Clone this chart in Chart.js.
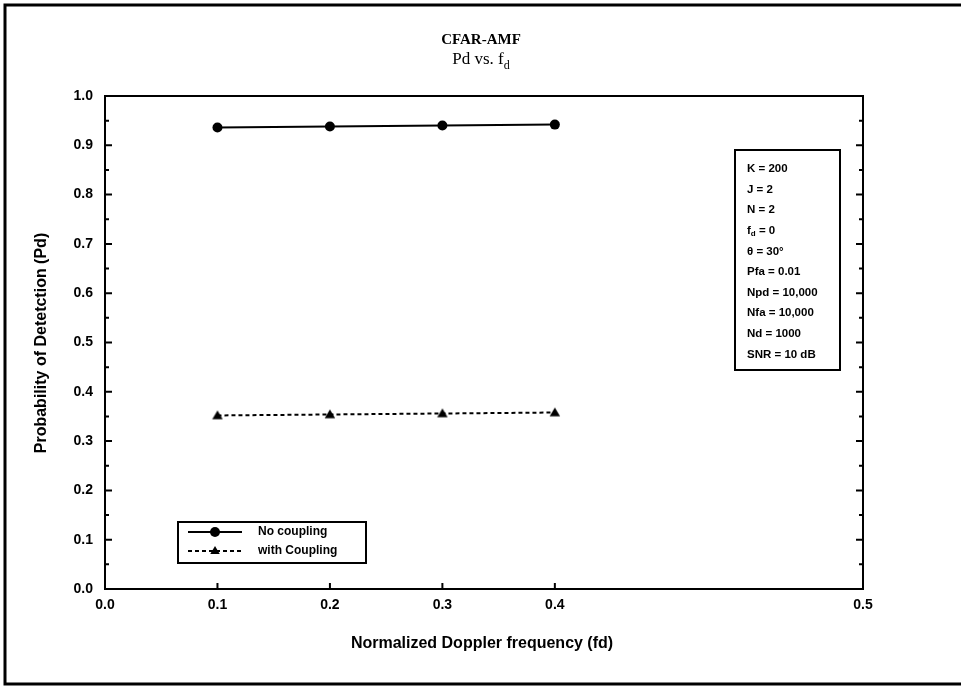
<!DOCTYPE html>
<html><head><meta charset="utf-8">
<script src="https://cdn.jsdelivr.net/npm/chart.js@4.4.1/dist/chart.umd.min.js"></script>
<style>html,body{margin:0;padding:0;background:#fff}#wrap{width:961px;height:692px;position:relative}</style>
</head><body><div id="wrap"><canvas id="c" width="961" height="692"></canvas></div>
<script>
// ---- data ----
const fdValues = [0.1, 0.2, 0.3, 0.4];
const pdNoCoupling = [0.936, 0.938, 0.940, 0.942];
const pdWithCoupling = [0.352, 0.354, 0.356, 0.358];
const xTickValues = [0, 0.1, 0.2, 0.3, 0.4, 0.674];
const xTickLabels = ['0.0', '0.1', '0.2', '0.3', '0.4', '0.5'];
const yTickValues = [0, 0.1, 0.2, 0.3, 0.4, 0.5, 0.6, 0.7, 0.8, 0.9, 1.0];
const yTickLabels = ['0.0', '0.1', '0.2', '0.3', '0.4', '0.5', '0.6', '0.7', '0.8', '0.9', '1.0'];
const seriesNames = ['No coupling', 'with Coupling'];
const titleMain = 'CFAR-AMF';
const xTitle = 'Normalized Doppler frequency (fd)';
const yTitle = 'Probability of Detetction (Pd)';
const paramLines = [
  {t: 'K = 200'}, {t: 'J = 2'}, {t: 'N = 2'}, {t: 'f', sub: 'd', rest: ' = 0'},
  {t: 'θ = 30°'}, {t: 'Pfa = 0.01'}, {t: 'Npd = 10,000'}, {t: 'Nfa = 10,000'},
  {t: 'Nd = 1000'}, {t: 'SNR = 10 dB'}
];

const SANS = '"Liberation Sans", Arial, sans-serif';
const SERIF = '"Liberation Serif", "Times New Roman", serif';

function tri(ctx, x, y, r) {
  ctx.beginPath();
  ctx.moveTo(x, y - r);
  ctx.lineTo(x + r * 0.95, y + r * 0.6);
  ctx.lineTo(x - r * 0.95, y + r * 0.6);
  ctx.closePath();
  ctx.fill();
}

const decor = {
  id: 'decor',
  afterDraw(chart) {
    const ctx = chart.ctx;
    const a = chart.chartArea;
    const xs = chart.scales.x, ys = chart.scales.y;
    ctx.save();
    ctx.strokeStyle = '#000';
    ctx.fillStyle = '#000';
    // top & right plot borders
    ctx.lineWidth = 2;
    ctx.beginPath();
    ctx.moveTo(a.left - 1, a.top); ctx.lineTo(a.right, a.top); ctx.lineTo(a.right, a.bottom + 1);
    ctx.stroke();
    // inward ticks
    ctx.lineWidth = 2;
    ctx.beginPath();
    for (let i = 0; i < yTickValues.length; i++) {
      const py = ys.getPixelForValue(yTickValues[i]);
      ctx.moveTo(a.left, py); ctx.lineTo(a.left + 7, py);
      ctx.moveTo(a.right, py); ctx.lineTo(a.right - 7, py);
      if (i < yTickValues.length - 1) {
        const pm = ys.getPixelForValue((yTickValues[i] + yTickValues[i + 1]) / 2);
        ctx.moveTo(a.left, pm); ctx.lineTo(a.left + 4, pm);
        ctx.moveTo(a.right, pm); ctx.lineTo(a.right - 4, pm);
      }
    }
    for (let i = 1; i < xTickValues.length - 1; i++) {
      const px = xs.getPixelForValue(xTickValues[i]);
      ctx.moveTo(px, a.bottom); ctx.lineTo(px, a.bottom - 6);
    }
    ctx.stroke();

    // titles
    ctx.textAlign = 'center'; ctx.textBaseline = 'middle';
    ctx.font = 'bold 15px ' + SERIF;
    ctx.fillText(titleMain, 481, 40);
    ctx.font = '17px ' + SERIF;
    const s1 = 'Pd vs. f';
    const w1 = ctx.measureText(s1).width;
    ctx.font = '12px ' + SERIF;
    const w2 = ctx.measureText('d').width;
    const sx = 481 - (w1 + w2) / 2;
    ctx.textAlign = 'left';
    ctx.font = '17px ' + SERIF;
    ctx.fillText(s1, sx, 60);
    ctx.font = '12px ' + SERIF;
    ctx.fillText('d', sx + w1, 66);

    // axis titles
    ctx.textAlign = 'center';
    ctx.font = 'bold 16px ' + SANS;
    ctx.fillText(xTitle, 482, 644);
    ctx.save();
    ctx.translate(42, 343);
    ctx.rotate(-Math.PI / 2);
    ctx.fillText(yTitle, 0, 0);
    ctx.restore();

    // parameter box
    ctx.lineWidth = 2;
    ctx.strokeRect(735, 150, 105, 220);
    ctx.textAlign = 'left';
    paramLines.forEach((p, i) => {
      const y = 169 + i * 20.6;
      ctx.font = 'bold 11.5px ' + SANS;
      ctx.fillText(p.t, 747, y);
      if (p.sub) {
        const w = ctx.measureText(p.t).width;
        ctx.font = 'bold 8px ' + SANS;
        ctx.fillText(p.sub, 747 + w, y + 3);
        const ws = ctx.measureText(p.sub).width;
        ctx.font = 'bold 11.5px ' + SANS;
        ctx.fillText(p.rest, 747 + w + ws, y);
      }
    });

    // legend
    ctx.lineWidth = 2;
    ctx.strokeRect(178, 522, 188, 41);
    ctx.beginPath(); ctx.moveTo(188, 532); ctx.lineTo(242, 532); ctx.stroke();
    ctx.beginPath(); ctx.arc(215, 532, 5, 0, Math.PI * 2); ctx.fill();
    ctx.setLineDash([4, 3]);
    ctx.beginPath(); ctx.moveTo(188, 551); ctx.lineTo(242, 551); ctx.stroke();
    ctx.setLineDash([]);
    tri(ctx, 215, 551, 5);
    ctx.font = 'bold 12px ' + SANS;
    ctx.fillText(seriesNames[0], 258, 532);
    ctx.fillText(seriesNames[1], 258, 551);

    // outer frame
    ctx.lineWidth = 3;
    ctx.beginPath();
    ctx.moveTo(961, 5); ctx.lineTo(5, 5); ctx.lineTo(5, 684); ctx.lineTo(961, 684);
    ctx.stroke();
    ctx.restore();
  }
};

const trianglePointStyle = (() => {
  const c = document.createElement('canvas');
  c.width = 12; c.height = 12;
  const g = c.getContext('2d');
  g.fillStyle = '#000';
  tri(g, 6, 6.5, 5.5);
  return c;
})();

new Chart(document.getElementById('c'), {
  type: 'line',
  data: {
    datasets: [
      {
        label: seriesNames[0],
        data: fdValues.map((x, i) => ({x, y: pdNoCoupling[i]})),
        borderColor: '#000', backgroundColor: '#000', borderWidth: 2,
        pointStyle: 'circle', pointRadius: 5, pointBorderWidth: 0,
        tension: 0
      },
      {
        label: seriesNames[1],
        data: fdValues.map((x, i) => ({x, y: pdWithCoupling[i]})),
        borderColor: '#000', backgroundColor: '#000', borderWidth: 2,
        borderDash: [4, 3],
        pointStyle: trianglePointStyle, pointRadius: 5,
        tension: 0
      }
    ]
  },
  options: {
    responsive: false, animation: false, devicePixelRatio: 1,
    layout: {padding: {top: 96, right: 98, left: 0, bottom: 0}},
    plugins: {legend: {display: false}, title: {display: false}, tooltip: {enabled: false}},
    scales: {
      x: {
        type: 'linear', min: 0, max: xTickValues[xTickValues.length - 1],
        afterBuildTicks: s => { s.ticks = xTickValues.map(v => ({value: v})); },
        afterFit: s => { s.height = 103; },
        grid: {display: false, drawTicks: false},
        border: {display: true, color: '#000', width: 2},
        ticks: {
          autoSkip: false, maxRotation: 0, padding: 8, color: '#000',
          font: {family: SANS, size: 14, weight: 'bold'},
          callback: (v, i) => xTickLabels[i]
        }
      },
      y: {
        type: 'linear', min: 0, max: 1,
        afterBuildTicks: s => { s.ticks = yTickValues.map(v => ({value: v})); },
        afterFit: s => { s.width = 105; },
        grid: {display: false, drawTicks: false},
        border: {display: true, color: '#000', width: 2},
        ticks: {
          padding: 12, color: '#000',
          font: {family: SANS, size: 14, weight: 'bold'},
          callback: (v, i) => yTickLabels[i]
        }
      }
    }
  },
  plugins: [decor]
});
</script></body></html>
